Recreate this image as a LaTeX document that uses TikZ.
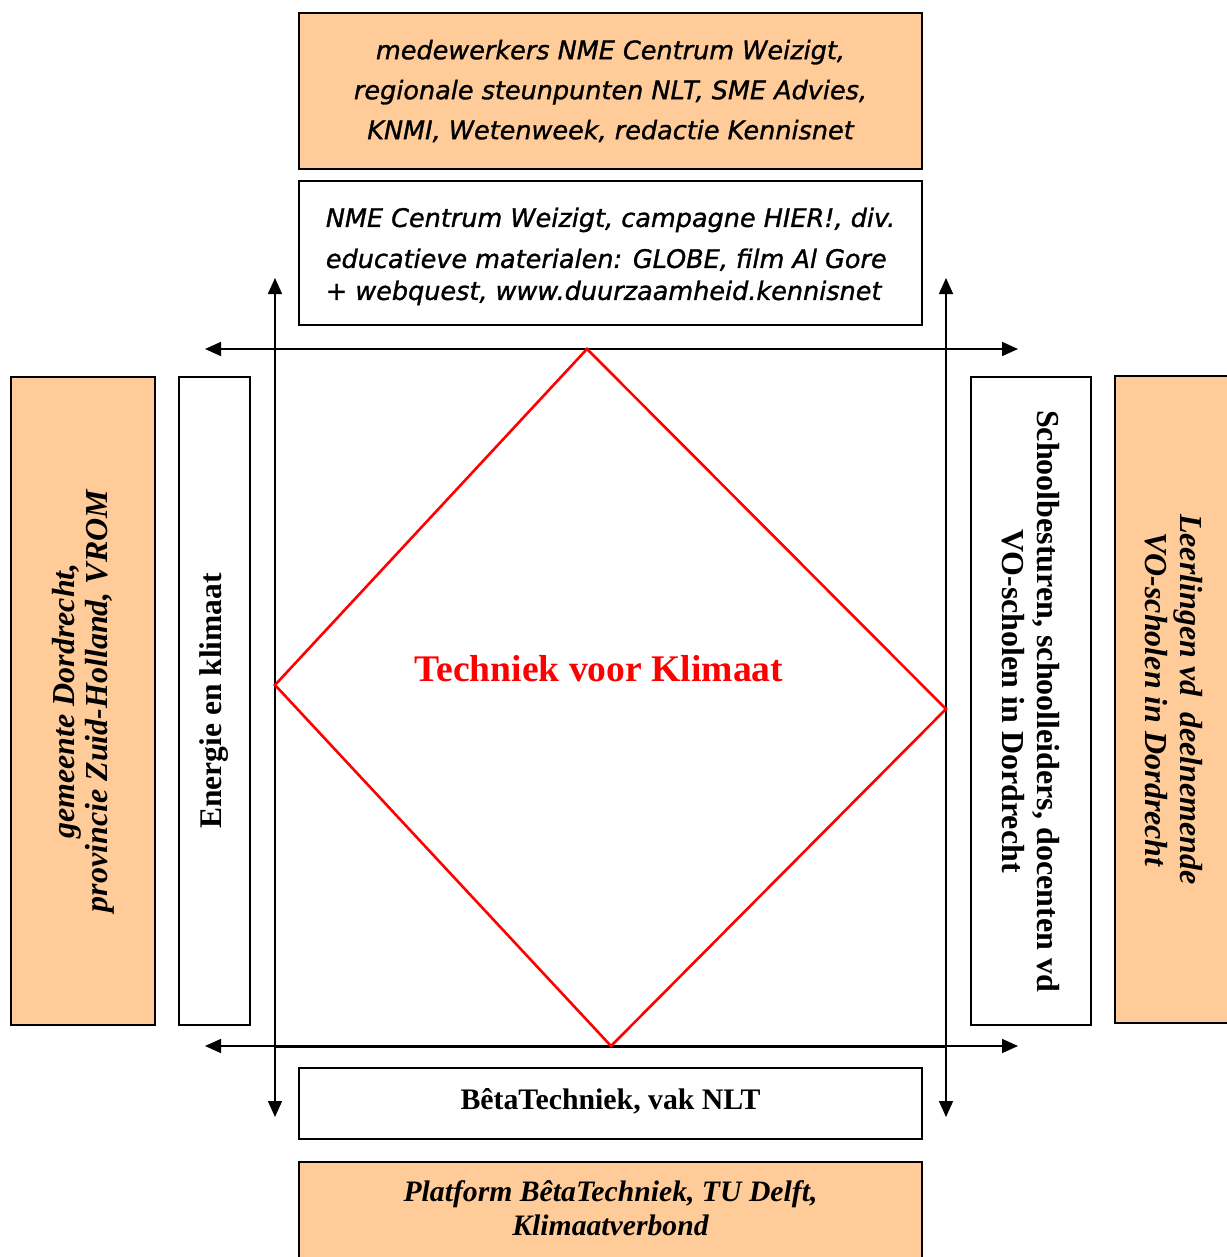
\documentclass[tikz,border=0pt]{standalone}
\usepackage{fontspec}
\setmainfont{Liberation Serif}
\newfontfamily\verdanafont[ItalicFeatures={FakeBold=1.2}]{DejaVu Sans}
\usetikzlibrary{arrows.meta}
\definecolor{peach}{HTML}{FFCC99}
\definecolor{klimaatred}{HTML}{FF0000}
\tikzset{
    peach-box/.style = {draw=black, fill=peach, line width=1.6pt, rectangle, inner sep=0pt, align=center},
    white-box/.style = {draw=black, fill=white, line width=1.6pt, rectangle, inner sep=0pt, align=center},
    sans-text/.style = {font=\verdanafont\itshape\fontsize{25.5}{40}\selectfont},
    serif-bold/.style = {font=\bfseries\fontsize{31.5}{35}\selectfont},
    serif-bolditalic/.style = {font=\bfseries\itshape\fontsize{32}{33}\selectfont},
    axis-arrow/.style = {line width=1.6pt, {Triangle[length=16pt,width=14pt]}-{Triangle[length=16pt,width=14pt]}},
}

\begin{document}
\begin{tikzpicture}[x=1pt, y=-1pt]
\useasboundingbox (0,0) rectangle (1226,1257);
\fill[white] (0,0) rectangle (1226,1257);

% top boxes
\node [peach-box, sans-text, minimum width=623pt, minimum height=156pt] (partners) at (610.5,91)
    {medewerkers NME Centrum Weizigt,\\regionale steunpunten NLT, SME Advies,\\KNMI, Wetenweek, redactie Kennisnet};
\node [white-box, minimum width=623pt, minimum height=144pt] (materials) at (610.5,253)
    {\raisebox{0pt}[\dimexpr\height+8pt\relax][\depth]{\verdanafont\itshape\fontsize{25.5}{32}\selectfont
     \begin{tabular}{@{}l@{}}NME Centrum Weizigt, campagne HIER!, div.\\[9pt]
     educatieve materialen: GLOBE, film Al Gore\\
     + webquest, www.duurzaamheid.kennisnet\end{tabular}}};

% bottom boxes
\node [white-box, font=\bfseries\fontsize{29.8}{35}\selectfont, minimum width=623pt, minimum height=71pt] (betavak) at (610.5,1103.5)
    {\raisebox{0pt}[\height][\dimexpr\depth+4pt\relax]{BêtaTechniek, vak NLT}};
\node [peach-box, font=\bfseries\itshape\fontsize{29.7}{34}\selectfont, minimum width=623pt, minimum height=100pt] (platform) at (610.5,1212)
    {\raisebox{8pt}{\begin{tabular}{@{}c@{}}Platform BêtaTechniek, TU Delft,\\Klimaatverbond\end{tabular}}};

% left boxes
\node [peach-box, serif-bolditalic, rotate=90, minimum width=648pt, minimum height=144pt] (gemeente) at (83,701)
    {gemeente Dordrecht,\\provincie Zuid-Holland, VROM};
\node [white-box, serif-bold, rotate=90, minimum width=648pt, minimum height=71pt] (energie) at (214.5,701)
    {Energie en klimaat};

% right boxes
\node [white-box, font=\bfseries\fontsize{32}{35}\selectfont, rotate=-90, minimum width=648pt, minimum height=120pt] (scholen) at (1031,701)
    {Schoolbesturen, schoolleiders, docenten vd\\VO-scholen in Dordrecht};
\node [peach-box, font=\bfseries\itshape\fontsize{32}{35}\selectfont, rotate=-90, minimum width=647pt, minimum height=118pt] (leerlingen) at (1174,699.5)
    {Leerlingen vd\ \ deelnemende\\VO-scholen in Dordrecht};

% axes
\coordinate (top-w) at (205,349);
\coordinate (top-e) at (1018,349);
\coordinate (bot-w) at (205,1046);
\coordinate (bot-e) at (1018,1046);
\coordinate (left-n) at (275,278);
\coordinate (left-s) at (275,1117);
\coordinate (right-n) at (946,278);
\coordinate (right-s) at (946,1117);
\draw [axis-arrow] (top-w) -- (top-e);
\draw [axis-arrow] (bot-w) -- (bot-e);
\draw [axis-arrow] (left-n) -- (left-s);
\draw [axis-arrow] (right-n) -- (right-s);
\draw [line width=3pt] (275,1046) -- (946,1046);

% diamond
\coordinate (dia-n) at (587,349);
\coordinate (dia-e) at (946,709);
\coordinate (dia-s) at (611,1046);
\coordinate (dia-w) at (275,685);
\draw [klimaatred, line width=2.6pt, line join=miter] (dia-n) -- (dia-e) -- (dia-s) -- (dia-w) -- cycle;
\node [text=klimaatred, font=\bfseries\fontsize{37.6}{45}\selectfont] (title) at (599,669) {Techniek voor Klimaat};
\end{tikzpicture}
\end{document}
